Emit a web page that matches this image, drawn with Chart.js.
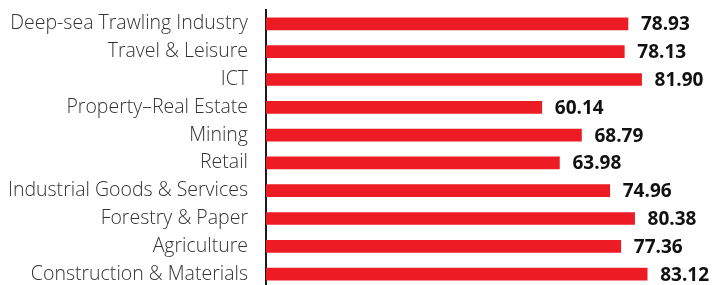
<!DOCTYPE html>
<html>
<head>
<meta charset="utf-8">
<script src="https://cdn.jsdelivr.net/npm/chart.js@4.4.1/dist/chart.umd.min.js"></script>
<style>
	html, body { margin: 0; padding: 0; background: #fff; overflow: hidden; }
	#wrap { width: 720px; height: 288px; }
</style>
</head>
<body>
<div id="wrap"><canvas id="myChart"></canvas></div>
<script>
var sectors = [
	'Deep-sea Trawling Industry',
	'Travel & Leisure',
	'ICT',
	'Property\u2013Real Estate',
	'Mining',
	'Retail',
	'Industrial Goods & Services',
	'Forestry & Paper',
	'Agriculture',
	'Construction & Materials'
];
var scores = [78.93, 78.13, 81.90, 60.14, 68.79, 63.98, 74.96, 80.38, 77.36, 83.12];

// draws the value at the end of each bar
var valueLabels = {
	id: 'valueLabels',
	afterDatasetsDraw: function(chart) {
		var ctx = chart.ctx;
		var meta = chart.getDatasetMeta(0);
		ctx.save();
		ctx.font = 'bold 19px "Open Sans", sans-serif';
		ctx.fillStyle = '#111';
		ctx.textAlign = 'left';
		ctx.textBaseline = 'middle';
		meta.data.forEach(function(bar, i) {
			ctx.fillText(scores[i].toFixed(2), bar.x + 13, bar.y + 1);
		});
		ctx.restore();
	}
};

var config = {
	type: 'bar',
	data: {
		labels: sectors,
		datasets: [{
			data: scores,
			backgroundColor: '#ED1C24',
			borderWidth: 0,
			barThickness: 12
		}]
	},
	options: {
		indexAxis: 'y',
		responsive: true,
		maintainAspectRatio: false,
		animation: false,
		layout: { padding: { top: 10, right: 0, bottom: 0, left: 0 } },
		plugins: {
			legend: { display: false },
			tooltip: { enabled: false }
		},
		scales: {
			x: {
				display: false,
				min: 0,
				max: 99
			},
			y: {
				grid: { display: false, drawTicks: false },
				border: { display: true, color: '#1a1a1a', width: 2 },
				ticks: {
					color: '#333',
					padding: 18,
					autoSkip: false,
					font: { family: '"Open Sans", sans-serif', size: 19.5, weight: 300 }
				},
				afterFit: function(scale) {
					scale.width = 266;
					scale.paddingTop = 0;
					scale.paddingBottom = 0;
				}
			}
		}
	},
	plugins: [valueLabels]
};

new Chart(document.getElementById('myChart').getContext('2d'), config);
</script>
</body>
</html>
